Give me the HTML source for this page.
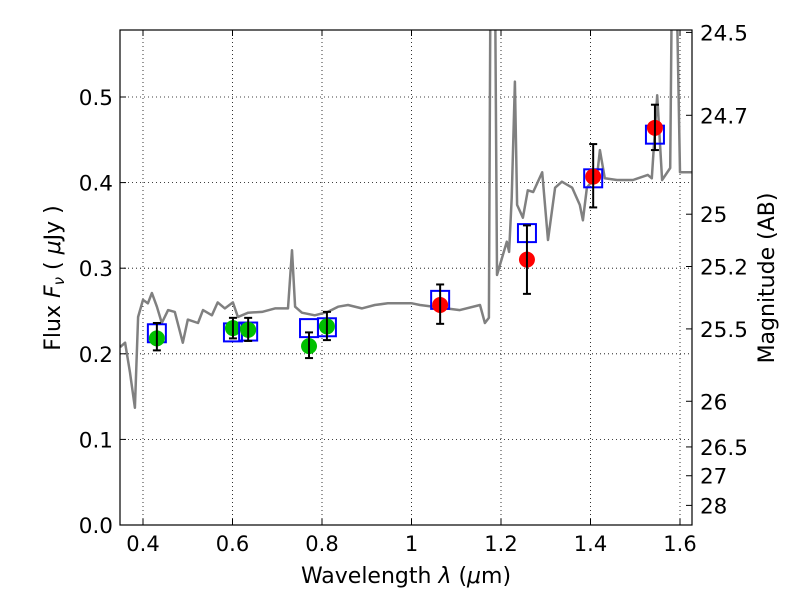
<!DOCTYPE html>
<html><head><meta charset="utf-8"><style>
body{margin:0;background:#fff}
svg{display:block;font-family:"DejaVu Sans","Liberation Sans",sans-serif}
</style></head><body>
<svg id="chart" width="800" height="600">
<g id="grid"></g>
<g id="spec"></g>
<g id="marks"></g>
<g id="axes"></g>
</svg>
<script>
const xTicks=[0.4,0.6,0.8,1.0,1.2,1.4,1.6];
const xTickLabels=["0.4","0.6","0.8","1","1.2","1.4","1.6"];
const yTicks=[0,0.1,0.2,0.3,0.4,0.5];
const yTickLabels=["0.0","0.1","0.2","0.3","0.4","0.5"];
const magTicks=[24.5,24.7,25,25.2,25.5,26,26.5,27,28];
const magTickLabels=["24.5","24.7","25","25.2","25.5","26","26.5","27","28"];
const specLam=[0.349,0.360,0.371,0.382,0.389,0.400,0.411,0.420,0.431,0.442,0.456,0.471,0.489,0.500,0.523,0.534,0.554,0.567,0.583,0.601,0.612,0.635,0.666,0.695,0.724,0.733,0.740,0.755,0.784,0.813,0.836,0.858,0.889,0.918,0.947,1.001,1.019,1.108,1.153,1.164,1.173,1.177,1.186,1.191,1.213,1.218,1.224,1.231,1.236,1.249,1.260,1.272,1.292,1.305,1.321,1.336,1.359,1.376,1.383,1.392,1.415,1.421,1.432,1.459,1.495,1.528,1.537,1.549,1.560,1.578,1.583,1.590,1.600,1.630];
const specFlux=[0.208,0.213,0.178,0.137,0.243,0.263,0.259,0.271,0.255,0.236,0.251,0.249,0.213,0.240,0.236,0.251,0.245,0.260,0.253,0.260,0.243,0.248,0.249,0.253,0.253,0.321,0.255,0.248,0.245,0.249,0.255,0.257,0.253,0.257,0.259,0.259,0.257,0.251,0.257,0.236,0.242,0.700,0.700,0.292,0.331,0.319,0.382,0.518,0.374,0.359,0.391,0.389,0.412,0.333,0.394,0.401,0.394,0.374,0.356,0.394,0.409,0.438,0.405,0.403,0.403,0.409,0.405,0.502,0.403,0.417,0.700,0.700,0.412,0.412];
const greenLam=[0.431,0.601,0.635,0.771,0.811];
const greenFlux=[0.218,0.230,0.228,0.209,0.232];
const greenErrLo=[0.204,0.218,0.215,0.195,0.216];
const greenErrHi=[0.236,0.242,0.242,0.225,0.249];
const greenModel=[0.224,0.225,0.226,0.230,0.231];
const redLam=[1.064,1.258,1.406,1.544];
const redFlux=[0.257,0.310,0.407,0.464];
const redErrLo=[0.235,0.270,0.371,0.438];
const redErrHi=[0.281,0.350,0.445,0.491];
const redModel=[0.263,0.341,0.405,0.456];

const L=120,R=692,T=30,B=525;
const x=v=>143+(v-0.4)*447.5;
const y=v=>525-v*856;
const NS="http://www.w3.org/2000/svg";
function mk(p,tag,a){const e=document.createElementNS(NS,tag);for(const k in a)e.setAttribute(k,a[k]);p.appendChild(e);return e;}
const svg=document.getElementById('chart');
const defs=mk(svg,'defs',{});
const cp=mk(defs,'clipPath',{id:'clip'});mk(cp,'rect',{x:L,y:T,width:R-L,height:B-T});
const grid=document.getElementById('grid'),axes=document.getElementById('axes'),spec=document.getElementById('spec'),marks=document.getElementById('marks');
xTicks.forEach((t,i)=>{
 const g=mk(grid,'line',{x1:x(t),x2:x(t),y1:T,y2:B,stroke:'#000','stroke-dasharray':'1,3','stroke-width':0.8});
 
 mk(axes,'line',{x1:x(t),x2:x(t),y1:B,y2:B-6,stroke:'#000'});
 mk(axes,'line',{x1:x(t),x2:x(t),y1:T,y2:T+6,stroke:'#000'});
 const tx=mk(axes,'text',{x:x(t),y:B+26,'font-size':21,'text-anchor':'middle'});tx.textContent=xTickLabels[i];
 
});
yTicks.forEach((t,i)=>{
 const g=mk(grid,'line',{x1:L,x2:R,y1:y(t),y2:y(t),stroke:'#000','stroke-dasharray':'1,3','stroke-width':0.8});
 
 mk(axes,'line',{x1:L,x2:L+6,y1:y(t),y2:y(t),stroke:'#000'});
 const tx=mk(axes,'text',{x:L-7,y:y(t)+8,'font-size':21.5,'text-anchor':'end'});tx.textContent=yTickLabels[i];
 
});
magTicks.forEach((m,i)=>{
 const f=Math.pow(10,(23.9-m)/2.5);const yy=y(f);
 mk(axes,'line',{x1:R,x2:R-6,y1:yy,y2:yy,stroke:'#000'});
 const tx=mk(axes,'text',{x:R+8,y:yy+8,'font-size':21.5});tx.textContent=magTickLabels[i];
 
});
const pts=specLam.map((l,i)=>x(l).toFixed(1)+','+y(specFlux[i]).toFixed(1)).join(' ');
const pl=mk(spec,'polyline',{points:pts,fill:'none',stroke:'#808080','stroke-width':2.5,'clip-path':'url(#clip)','stroke-linejoin':'round'});

function drawSet(lam,fl,lo,hi,mod,col,name){
 lam.forEach((l,i)=>{
  const cx=x(l);
  const sq=mk(marks,'rect',{x:cx-9,y:y(mod[i])-9,width:18,height:18,fill:'none',stroke:'#0000ff','stroke-width':2});
  
  const c=mk(marks,'circle',{cx:cx,cy:y(fl[i]),r:8,fill:col});
  
  const e=mk(marks,'g',{stroke:'#000','stroke-width':2});
  
  mk(e,'line',{x1:cx,x2:cx,y1:y(lo[i]),y2:y(hi[i])});
  mk(e,'line',{x1:cx-4,x2:cx+4,y1:y(lo[i]),y2:y(lo[i])});
  mk(e,'line',{x1:cx-4,x2:cx+4,y1:y(hi[i]),y2:y(hi[i])});
 });
}
drawSet(greenLam,greenFlux,greenErrLo,greenErrHi,greenModel,'#00c000','green-point');
drawSet(redLam,redFlux,redErrLo,redErrHi,redModel,'#ff0000','red-point');
const fr=mk(axes,'rect',{x:L,y:T,width:R-L,height:B-T,fill:'none',stroke:'#000','stroke-width':1.2});

const xl=mk(axes,'text',{x:406,y:583,'font-size':22,'text-anchor':'middle'});
xl.innerHTML='Wavelength  <tspan font-style="italic">λ</tspan> (<tspan font-style="italic">μ</tspan>m)';

const yl=mk(axes,'text',{x:0,y:0,'font-size':22,'text-anchor':'middle',transform:'translate(60,278) rotate(-90)'});
yl.innerHTML='Flux  <tspan font-style="italic">F</tspan><tspan font-style="italic" font-size="15" dy="4">ν</tspan><tspan dy="-4">  (  </tspan><tspan font-style="italic">μ</tspan>Jy )';

const ml=mk(axes,'text',{x:0,y:0,'font-size':22,'text-anchor':'middle',transform:'translate(774,278) rotate(-90)'});
ml.textContent='Magnitude (AB)';

</script>
</body></html>
